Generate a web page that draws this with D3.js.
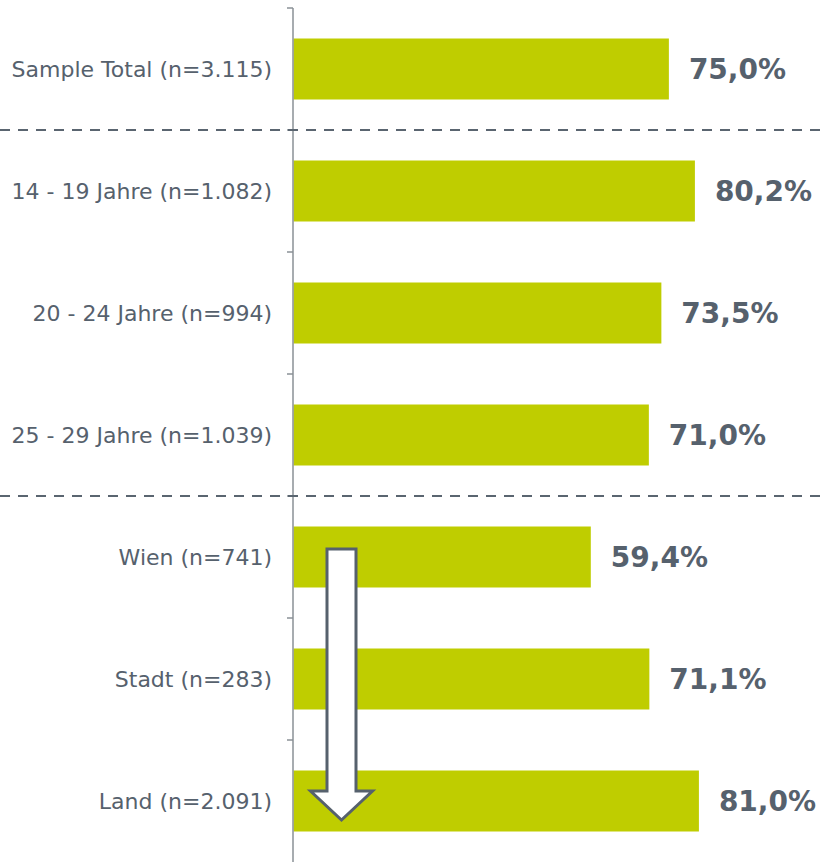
<!DOCTYPE html>
<html>
  <head>
    <style>
      body { margin: 0; background: #fff; }
      text { font-family: "DejaVu Sans", Verdana, sans-serif; }
    </style>
    <script src="https://d3js.org/d3.v7.min.js"></script>
  </head>
  <body>
    <svg id="chart" width="821" height="862"></svg>
    <script>
      var categories = ["Sample Total (n=3.115)", "14 - 19 Jahre (n=1.082)", "20 - 24 Jahre (n=994)",
        "25 - 29 Jahre (n=1.039)", "Wien (n=741)", "Stadt (n=283)", "Land (n=2.091)"];
      var values = [75.0, 80.2, 73.5, 71.0, 59.4, 71.1, 81.0];
      var valueLabels = ["75,0%", "80,2%", "73,5%", "71,0%", "59,4%", "71,1%", "81,0%"];
      var groupBreaks = [1, 4]; // dashed separator before these rows

      var svg = d3.select("#chart");
      var textColor = "#56616d";

      var x = d3.scaleLinear().domain([0, 100]).range([293.5, 794]);
      var y = d3.scaleBand().domain(categories).range([8, 862]).paddingInner(0.5).paddingOuter(0.25);

      // bars
      svg.selectAll(".bar").data(categories).enter().append("rect")
        .attr("class", "bar")
        .attr("x", x(0))
        .attr("y", function(d) { return y(d); })
        .attr("width", function(d, i) { return x(values[i]) - x(0); })
        .attr("height", y.bandwidth())
        .attr("fill", "#bfcd00");

      // value labels
      svg.selectAll(".val").data(categories).enter().append("text")
        .attr("x", function(d, i) { return x(values[i]) + 20; })
        .attr("y", function(d) { return y(d) + y.bandwidth() / 2; })
        .attr("dy", "0.36em")
        .attr("font-size", 28)
        .attr("font-weight", "bold")
        .attr("fill", textColor)
        .text(function(d, i) { return valueLabels[i]; });

      // category labels
      svg.selectAll(".cat").data(categories).enter().append("text")
        .attr("x", 272)
        .attr("y", function(d) { return y(d) + y.bandwidth() / 2; })
        .attr("dy", "0.36em")
        .attr("text-anchor", "end")
        .attr("font-size", 22)
        .attr("fill", textColor)
        .text(function(d) { return d; });

      // axis line and ticks at band boundaries
      var step = y.step();
      svg.append("line")
        .attr("x1", 293).attr("x2", 293)
        .attr("y1", 8).attr("y2", 862)
        .attr("stroke", "#8a9096").attr("stroke-width", 1.5);
      d3.range(categories.length).forEach(function(i) {
        svg.append("line")
          .attr("x1", 287).attr("x2", 293)
          .attr("y1", 8 + i * step).attr("y2", 8 + i * step)
          .attr("stroke", "#8a9096").attr("stroke-width", 1.5);
      });

      // dashed group separators
      groupBreaks.forEach(function(b) {
        var yy = Math.round(8 + b * step);
        svg.append("line")
          .attr("x1", 0).attr("x2", 821)
          .attr("y1", yy).attr("y2", yy)
          .attr("stroke", "#5a6570").attr("stroke-width", 2)
          .attr("stroke-dasharray", "10,8");
      });

      // down arrow over the region rows
      var ax = 341.5, arrTop = 549, neck = 791, tip = 820, sw = 14.5, hw = 31;
      svg.append("path")
        .attr("d", "M" + (ax - sw) + "," + arrTop + " L" + (ax + sw) + "," + arrTop +
          " L" + (ax + sw) + "," + neck + " L" + (ax + hw) + "," + neck +
          " L" + ax + "," + tip + " L" + (ax - hw) + "," + neck +
          " L" + (ax - sw) + "," + neck + " Z")
        .attr("fill", "#fff")
        .attr("stroke", "#56616d")
        .attr("stroke-width", 3)
        .attr("stroke-linejoin", "miter");
    </script>
  </body>
</html>
